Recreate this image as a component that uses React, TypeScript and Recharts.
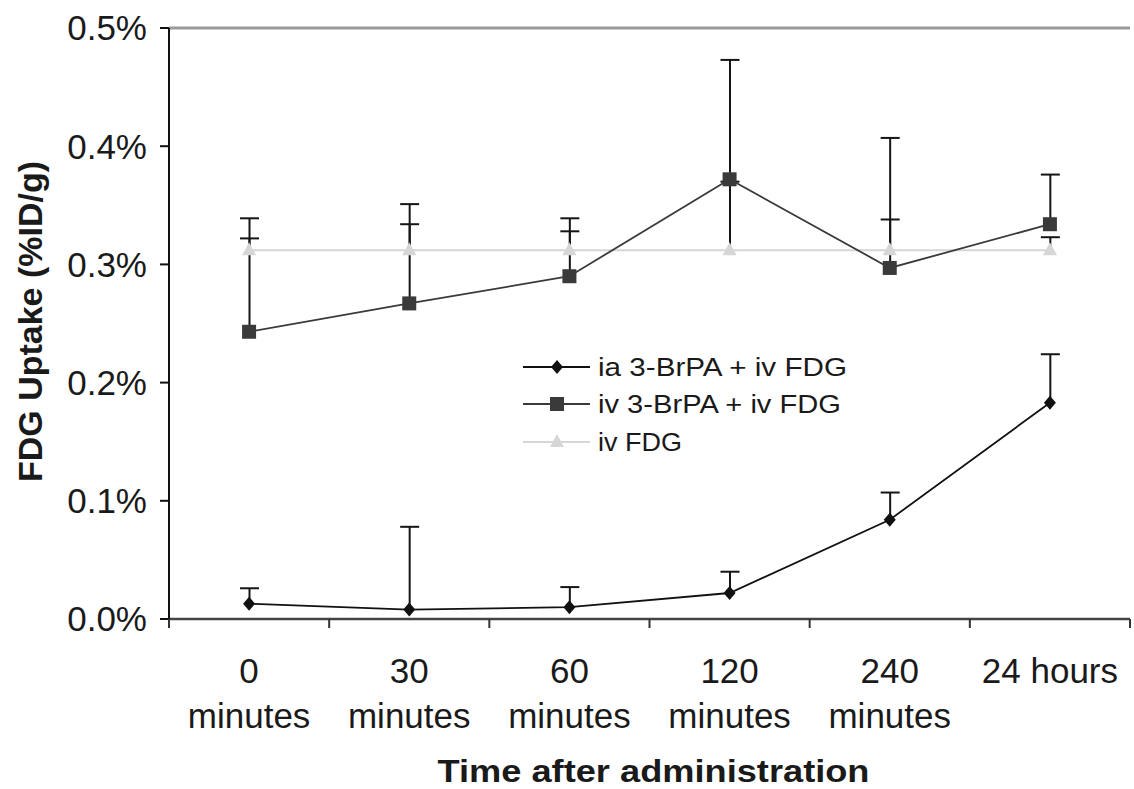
import React from "react";
import { ComposedChart, Line, Bar, XAxis, YAxis, ReferenceLine, Legend } from "recharts";

const categories = ["0 minutes", "30 minutes", "60 minutes", "120 minutes", "240 minutes", "24 hours"];
const tickLine1 = ["0", "30", "60", "120", "240", "24 hours"];
const tickLine2 = ["minutes", "minutes", "minutes", "minutes", "minutes", ""];
const yTicks = [0, 0.1, 0.2, 0.3, 0.4, 0.5];

const iaValues = [0.013, 0.008, 0.010, 0.022, 0.084, 0.183];
const iaErrTop = [0.026, 0.078, 0.027, 0.040, 0.107, 0.224];
const ivBrValues = [0.243, 0.267, 0.290, 0.372, 0.297, 0.334];
const ivBrErrTop = [0.339, 0.351, 0.339, 0.473, 0.407, 0.376];
const ivFdgValues = [0.312, 0.312, 0.312, 0.312, 0.312, 0.312];
const ivFdgErrTop = [0.322, 0.334, 0.328, 0.370, 0.338, 0.323];

const seriesNames = ["ia 3-BrPA + iv FDG", "iv 3-BrPA + iv FDG", "iv FDG"];

const data = categories.map((cat, i) => ({
  cat,
  ia: iaValues[i],
  iaTop: iaErrTop[i],
  ivBr: ivBrValues[i],
  ivBrTop: ivBrErrTop[i],
  ivFdg: ivFdgValues[i],
  ivFdgTop: ivFdgErrTop[i],
}));

const FONT = "'Liberation Sans', Arial, Helvetica, sans-serif";
const TEXT = "#1a1a1a";

const C_IA = "#111111";
const C_BR = "#3a3a3a";
const C_FDG = "#d6d6d6";
const C_ERR = "#151515";

function Diamond({ cx, cy }: any) {
  return <polygon points={`${cx},${cy - 7} ${cx + 6},${cy} ${cx},${cy + 7} ${cx - 6},${cy}`} fill={C_IA} />;
}
function Square({ cx, cy }: any) {
  return <rect x={cx - 7} y={cy - 7} width={14} height={14} fill={C_BR} />;
}
function Triangle({ cx, cy }: any) {
  return <polygon points={`${cx},${cy - 8} ${cx + 7},${cy + 5} ${cx - 7},${cy + 5}`} fill={C_FDG} />;
}

const errShape = (props: any) => {
  const { x, y, width, height } = props;
  if (x == null || y == null) return <g />;
  const cx = x + width / 2;
  const top = Math.min(y, y + height);
  const bottom = Math.max(y, y + height);
  return (
    <g>
      <line x1={cx} y1={top} x2={cx} y2={bottom} stroke={C_ERR} strokeWidth={2} />
      <line x1={x} y1={top} x2={x + width} y2={top} stroke={C_ERR} strokeWidth={2} />
    </g>
  );
};

function XTick(props: any) {
  const { x, y, payload } = props;
  const half = payload && payload.offset ? payload.offset : 0;
  const i = categories.indexOf(payload.value);
  return (
    <g>
      <line x1={x - half} y1={y} x2={x - half} y2={y + 9} stroke="#333" strokeWidth={2} />
      {i === categories.length - 1 && (
        <line x1={x + half} y1={y} x2={x + half} y2={y + 9} stroke="#333" strokeWidth={2} />
      )}
      <text x={x} y={y + 64} textAnchor="middle" fontSize={35} fill={TEXT} fontFamily={FONT}>
        {tickLine1[i]}
      </text>
      {tickLine2[i] ? (
        <text x={x} y={y + 109} textAnchor="middle" fontSize={35} fill={TEXT} fontFamily={FONT}>
          {tickLine2[i]}
        </text>
      ) : null}
    </g>
  );
}

function LegendBox() {
  const rows = [
    { name: seriesNames[0], color: C_IA, M: Diamond, w: 1.8 },
    { name: seriesNames[1], color: C_BR, M: Square, w: 1.8 },
    { name: seriesNames[2], color: C_FDG, M: Triangle, w: 2 },
  ];
  const ys = [18, 55, 93];
  const widths = [249, 243, 84];
  return (
    <svg width={340} height={115} style={{ display: "block", overflow: "visible" }}>
      {rows.map((r, i) => (
        <g key={i}>
          <line x1={3} y1={ys[i]} x2={70} y2={ys[i]} stroke={r.color} strokeWidth={r.w} />
          <r.M cx={37} cy={ys[i]} />
          <text
            x={78}
            y={ys[i] + 9}
            fontSize={26}
            fill={TEXT}
            fontFamily={FONT}
            textLength={widths[i]}
            lengthAdjust="spacingAndGlyphs"
          >
            {r.name}
          </text>
        </g>
      ))}
    </svg>
  );
}

export default function App() {
  return (
    <div style={{ position: "absolute", left: 0, top: 0, width: 1134, height: 789, background: "#fff" }}>
      <ComposedChart width={1134} height={789} data={data} margin={{ top: 28, right: 4, left: 0, bottom: 0 }}>
        <XAxis
          xAxisId="main"
          dataKey="cat"
          scale="band"
          height={170}
          tickSize={0}
          tickMargin={0}
          tickLine={false}
          interval={0}
          axisLine={{ stroke: "#444", strokeWidth: 2.5 }}
          tick={(p: any) => <XTick {...p} />}
          label={(p: any) => {
            const vb = p.viewBox || { x: 169, y: 619, width: 961, height: 170 };
            return (
              <text
                x={vb.x + vb.width / 2 + 4}
                y={vb.y + 163}
                textAnchor="middle"
                fontSize={31}
                fontWeight="bold"
                fill={TEXT}
                fontFamily={FONT}
                textLength={432}
                lengthAdjust="spacingAndGlyphs"
              >
                Time after administration
              </text>
            );
          }}
        />
        <XAxis xAxisId="e1" dataKey="cat" scale="band" hide height={0} />
        <XAxis xAxisId="e2" dataKey="cat" scale="band" hide height={0} />
        <XAxis xAxisId="e3" dataKey="cat" scale="band" hide height={0} />
        <YAxis
          width={169}
          domain={[0, 0.5]}
          ticks={yTicks}
          interval={0}
          tickFormatter={(v: number) => `${v.toFixed(1)}%`}
          tickSize={9}
          tickMargin={13}
          tick={{ fontSize: 35, fill: TEXT, fontFamily: FONT }}
          axisLine={{ stroke: "#111", strokeWidth: 2 }}
          tickLine={{ stroke: "#111", strokeWidth: 2 }}
          label={(p: any) => {
            const vb = p.viewBox || { x: 0, y: 28, width: 169, height: 591 };
            const cx = 42;
            const cy = vb.y + vb.height / 2 - 2;
            return (
              <text
                x={cx}
                y={cy}
                textAnchor="middle"
                fontSize={34}
                fontWeight="bold"
                fill={TEXT}
                fontFamily={FONT}
                transform={`rotate(-90, ${cx}, ${cy})`}
              >
                FDG Uptake (%ID/g)
              </text>
            );
          }}
        />
        <ReferenceLine xAxisId="main" y={0.5} stroke="#9a9a9a" strokeWidth={3} />
        <Bar xAxisId="e3" dataKey={(d: any) => [d.ivFdg, d.ivFdgTop]} barSize={19} shape={errShape} isAnimationActive={false} legendType="none" />
        <Bar xAxisId="e2" dataKey={(d: any) => [d.ivBr, d.ivBrTop]} barSize={19} shape={errShape} isAnimationActive={false} legendType="none" />
        <Bar xAxisId="e1" dataKey={(d: any) => [d.ia, d.iaTop]} barSize={19} shape={errShape} isAnimationActive={false} legendType="none" />
        <Line
          xAxisId="main"
          dataKey="ivFdg"
          name={seriesNames[2]}
          stroke={C_FDG}
          strokeWidth={2}
          dot={(p: any) => <Triangle key={`t${p.index}`} cx={p.cx} cy={p.cy} />}
          activeDot={false}
          isAnimationActive={false}
        />
        <Line
          xAxisId="main"
          dataKey="ivBr"
          name={seriesNames[1]}
          stroke={C_BR}
          strokeWidth={1.8}
          dot={(p: any) => <Square key={`s${p.index}`} cx={p.cx} cy={p.cy} />}
          activeDot={false}
          isAnimationActive={false}
        />
        <Line
          xAxisId="main"
          dataKey="ia"
          name={seriesNames[0]}
          stroke={C_IA}
          strokeWidth={1.8}
          dot={(p: any) => <Diamond key={`d${p.index}`} cx={p.cx} cy={p.cy} />}
          activeDot={false}
          isAnimationActive={false}
        />
        <Legend
          layout="vertical"
          verticalAlign="middle"
          align="center"
          wrapperStyle={{ left: 520, top: 349, width: 340, height: 115 }}
          content={() => <LegendBox />}
        />
      </ComposedChart>
    </div>
  );
}
